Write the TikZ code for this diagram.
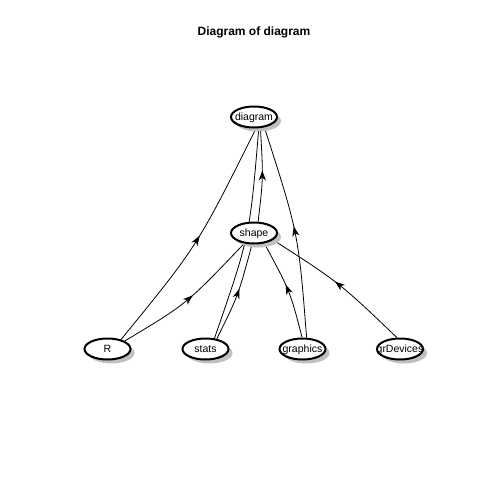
\documentclass[tikz,border=0pt]{standalone}
\usepackage{fontspec}
\setmainfont{Liberation Sans}
\usetikzlibrary{shapes.geometric,shadows,arrows.meta,decorations.markings}
\pgfdeclarelayer{bg}
\pgfsetlayers{bg,main}
\definecolor{shadowgray}{RGB}{192,192,192}
\begin{document}
\begin{tikzpicture}[x=1pt,y=-1pt,
  pkg/.style={ellipse, draw, line width=2pt, fill=white,
    minimum width=46pt, minimum height=21pt, inner sep=0pt,
    text height=7.6pt, text depth=0pt,
    font=\fontsize{10.5}{12}\selectfont,
    drop shadow={shadow xshift=4pt, shadow yshift=-4pt, fill=shadowgray, opacity=1}},
  depline/.style={line width=0.8pt, postaction={decorate},
    decoration={markings, mark=at position 0.5 with
      {\pgftransformxshift{4.5pt}\arrow{Stealth[length=10pt,width=7pt,inset=3pt]}}}}]
\node[font=\bfseries\fontsize{12}{14}\selectfont, anchor=base] (title) at (254,35.5) {Diagram of diagram};
% packages
\node[pkg] (diagram)   at (254,117) {\makebox[0pt]{diagram}};
\node[pkg] (shapepkg)  at (254,233) {\makebox[0pt]{shape}};
\node[pkg] (Rbase)     at (107.5,349) {\makebox[0pt]{R}};
\node[pkg] (stats)     at (205.5,349) {\makebox[0pt]{stats}};
\node[pkg] (graphics)  at (302.5,349) {\makebox[0pt]{graphics}};
\node[pkg] (grDevices) at (400,349) {\makebox[0pt]{grDevices}};
\begin{pgfonlayer}{bg}
% page
\fill[white] (0,0) rectangle (480,480);
% dependencies, drawn underneath the packages
\draw[depline] (Rbase.35) .. controls (197.3,246.1) .. (diagram.280);
\draw[depline] (Rbase.25) .. controls (186.6,304) .. (shapepkg.227);
\draw[depline] (stats.42) .. controls (238,296.2) .. (shapepkg.260);
\draw[depline] (stats.50) .. controls (249.8,236.2) .. (diagram.293);
\draw[depline] (shapepkg.70) .. controls (263.3,177.7) .. (diagram.300);
\draw[depline] (graphics.70) .. controls (298.4,233.1) .. (diagram.315);
\draw[depline] (graphics.92) .. controls (290.1,291.2) .. (shapepkg.315);
\draw[depline] (grDevices.105) .. controls (339.5,282.7) .. (shapepkg.340);
\end{pgfonlayer}
\end{tikzpicture}
\end{document}
